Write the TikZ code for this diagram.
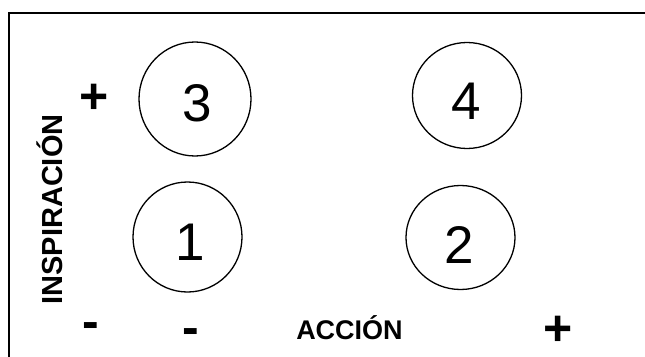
\documentclass[tikz,border=0pt]{standalone}
\usepackage{fontspec}
\setmainfont{Liberation Sans}
\usetikzlibrary{shapes.geometric}

\tikzset{
  ring/.style={ellipse, draw=black, line width=1.3pt, inner sep=0pt},
  digit/.style={anchor=base, inner sep=0pt, font=\fontsize{53}{60}\selectfont},
  sign/.style={anchor=base, inner sep=0pt, font=\fontsize{50}{56}\selectfont\bfseries},
  axislabel/.style={anchor=base, inner sep=0pt, font=\bfseries},
}

\begin{document}
\begin{tikzpicture}[x=1pt, y=-1pt]
  \useasboundingbox (0,0) rectangle (645,356);
  \clip (0,0) rectangle (645,356);
  \fill[white] (0,0) rectangle (645,356);

  % frame: only its top and left sides fall inside the page
  \draw[line width=2pt] (8.5,12.5) rectangle (700,420);

  % quadrant circles
  \node[ring, minimum width=112pt, minimum height=114pt] (c3) at (195,99) {};
  \node[ring, minimum width=109pt, minimum height=106pt] (c4) at (467,95.5) {};
  \node[ring, minimum width=109pt, minimum height=110pt] (c1) at (187.5,237) {};
  \node[ring, minimum width=109pt, minimum height=104pt] (c2) at (460.5,237.5) {};

  % quadrant numbers
  \node[digit] (n3) at (197,121) {3};
  \node[digit] (n4) at (466,119) {4};
  \node[digit] (n1) at (190.5,260) {1};
  \node[digit] (n2) at (459.5,263) {2};

  % axis signs
  \node[sign] (ip) at (94,113.5) {+};
  \node[sign] (im) at (91,338.5) {-};
  \node[sign] (am) at (191,344.5) {-};
  \node[sign] (ap) at (558.5,345.5) {+};

  % axis titles
  \node[axislabel, font=\fontsize{27}{31}\selectfont\bfseries] (acc) at (349.5,339) {ACCIÓN};
  \node[axislabel, font=\fontsize{29}{33}\selectfont\bfseries, rotate=90] (insp) at (62,209.5) {INSPIRACIÓN};
\end{tikzpicture}
\end{document}
